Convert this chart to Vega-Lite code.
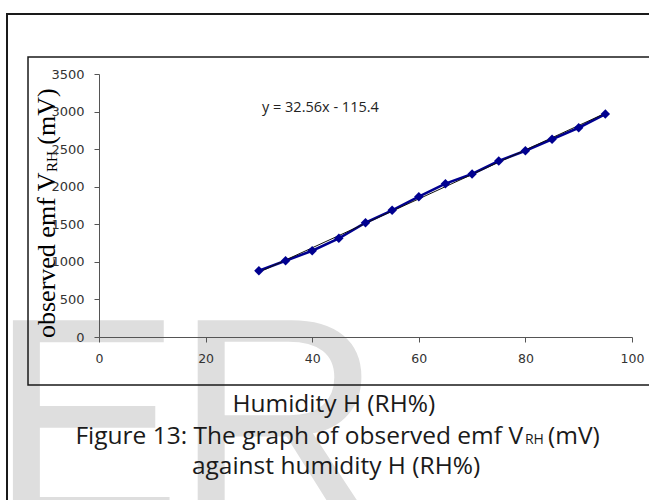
{
  "$schema": "https://vega.github.io/schema/vega-lite/v6.json",
  "width": 533,
  "height": 263,
  "autosize": {"type": "none"},
  "padding": {"left": 99, "top": 74, "right": 17, "bottom": 163},
  "background": "white",
  "config": {"view": {"stroke": null}},
  "resolve": {"scale": {"x": "independent", "y": "independent"}, "axis": {"x": "independent", "y": "independent"}},
  "datasets": {
    "obs": [
      {"humidity": 30, "emf": 882},
      {"humidity": 35, "emf": 1015},
      {"humidity": 40, "emf": 1148},
      {"humidity": 45, "emf": 1313},
      {"humidity": 50, "emf": 1521},
      {"humidity": 55, "emf": 1686},
      {"humidity": 60, "emf": 1867},
      {"humidity": 65, "emf": 2041},
      {"humidity": 70, "emf": 2169},
      {"humidity": 75, "emf": 2342},
      {"humidity": 80, "emf": 2479},
      {"humidity": 85, "emf": 2631},
      {"humidity": 90, "emf": 2785},
      {"humidity": 95, "emf": 2968}
    ],
    "trend": [
      {"humidity": 30, "emf": 861.4},
      {"humidity": 95, "emf": 2977.8}
    ]
  },
  "layer": [
    {
      "data": {"values": [{}]},
      "mark": {"type": "text", "text": "E", "font": "Liberation Sans", "fontSize": 289, "color": "#dedede", "align": "left", "baseline": "alphabetic"},
      "encoding": {
        "x": {"datum": -20.6, "type": "quantitative", "scale": {"domain": [0, 100], "nice": false, "zero": false}, "axis": null},
        "y": {"datum": -2422, "type": "quantitative", "scale": {"domain": [0, 3500], "nice": false, "zero": false}, "axis": null}
      }
    },
    {
      "data": {"values": [{}]},
      "mark": {"type": "text", "text": "R", "font": "Liberation Sans", "fontSize": 289, "color": "#dedede", "align": "left", "baseline": "alphabetic"},
      "encoding": {
        "x": {"datum": 14.07, "type": "quantitative", "scale": {"domain": [0, 100], "nice": false, "zero": false}, "axis": null},
        "y": {"datum": -2422, "type": "quantitative", "scale": {"domain": [0, 3500], "nice": false, "zero": false}, "axis": null}
      }
    },
    {
      "data": {"values": [{}]},
      "mark": {"type": "rect", "filled": false, "stroke": "#1a1a1a", "strokeWidth": 2},
      "encoding": {
        "x": {"datum": -17.26, "type": "quantitative", "scale": {"domain": [0, 100], "nice": false, "zero": false}, "axis": null},
        "x2": {"datum": 110},
        "y": {"datum": 4298.5, "type": "quantitative", "scale": {"domain": [0, 3500], "nice": false, "zero": false}, "axis": null},
        "y2": {"datum": -2435}
      }
    },
    {
      "data": {"values": [{}]},
      "mark": {"type": "rect", "filled": false, "stroke": "#1a1a1a", "strokeWidth": 1.5},
      "encoding": {
        "x": {"datum": -13.32, "type": "quantitative", "scale": {"domain": [0, 100], "nice": false, "zero": false}, "axis": null},
        "x2": {"datum": 110},
        "y": {"datum": 3726.2, "type": "quantitative", "scale": {"domain": [0, 3500], "nice": false, "zero": false}, "axis": null},
        "y2": {"datum": -638.8}
      }
    },
    {
      "data": {"name": "obs"},
      "mark": {"type": "line", "color": "#000090", "strokeWidth": 2.6},
      "encoding": {
        "x": {
          "field": "humidity", "type": "quantitative",
          "scale": {"domain": [0, 100], "nice": false, "zero": false},
          "axis": {"title": null, "values": [0, 20, 40, 60, 80, 100], "format": "d", "labelOverlap": false, "labelFlush": false, "labelBound": false, "grid": false, "tickSize": 5, "domainColor": "#555555", "tickColor": "#555555", "labelColor": "#333333", "labelFont": "DejaVu Sans", "labelFontSize": 12.5, "labelPadding": 10, "domainWidth": 1, "zindex": 1}
        },
        "y": {
          "field": "emf", "type": "quantitative",
          "scale": {"domain": [0, 3500], "nice": false, "zero": false},
          "axis": {"title": null, "values": [0, 500, 1000, 1500, 2000, 2500, 3000, 3500], "format": "d", "labelOverlap": false, "labelFlush": false, "labelBound": false, "grid": false, "tickSize": 5, "domainColor": "#555555", "tickColor": "#555555", "labelColor": "#333333", "labelFont": "DejaVu Sans", "labelFontSize": 13, "labelPadding": 10, "domainWidth": 1, "zindex": 1}
        }
      }
    },
    {
      "data": {"name": "trend"},
      "mark": {"type": "line", "color": "#111111", "strokeWidth": 1},
      "encoding": {
        "x": {"field": "humidity", "type": "quantitative", "scale": {"domain": [0, 100], "nice": false, "zero": false}, "axis": null},
        "y": {"field": "emf", "type": "quantitative", "scale": {"domain": [0, 3500], "nice": false, "zero": false}, "axis": null}
      }
    },
    {
      "data": {"name": "obs"},
      "mark": {"type": "point", "shape": "diamond", "filled": true, "color": "#000090", "size": 90, "opacity": 1},
      "encoding": {
        "x": {"field": "humidity", "type": "quantitative", "scale": {"domain": [0, 100], "nice": false, "zero": false}, "axis": null},
        "y": {"field": "emf", "type": "quantitative", "scale": {"domain": [0, 3500], "nice": false, "zero": false}, "axis": null}
      }
    },
    {
      "data": {"values": [{}]},
      "mark": {"type": "text", "text": "y = 32.56x - 115.4", "font": "Open Sans", "fontSize": 14.5, "color": "#222222", "align": "left", "baseline": "alphabetic"},
      "encoding": {
        "x": {"datum": 30.58, "type": "quantitative", "scale": {"domain": [0, 100], "nice": false, "zero": false}, "axis": null},
        "y": {"datum": 2998, "type": "quantitative", "scale": {"domain": [0, 3500], "nice": false, "zero": false}, "axis": null}
      }
    },
    {
      "data": {"values": [{}]},
      "mark": {"type": "text", "text": "observed emf V", "font": "Liberation Serif", "fontSize": 26, "color": "#000000", "angle": 270, "align": "left", "baseline": "alphabetic"},
      "encoding": {
        "x": {"datum": -8.255, "type": "quantitative", "scale": {"domain": [0, 100], "nice": false, "zero": false}, "axis": null},
        "y": {"datum": -13.3, "type": "quantitative", "scale": {"domain": [0, 3500], "nice": false, "zero": false}, "axis": null}
      }
    },
    {
      "data": {"values": [{}]},
      "mark": {"type": "text", "text": "RH", "font": "Liberation Serif", "fontSize": 15, "color": "#000000", "angle": 270, "align": "left", "baseline": "alphabetic"},
      "encoding": {
        "x": {"datum": -7.88, "type": "quantitative", "scale": {"domain": [0, 100], "nice": false, "zero": false}, "axis": null},
        "y": {"datum": 2195.8, "type": "quantitative", "scale": {"domain": [0, 3500], "nice": false, "zero": false}, "axis": null}
      }
    },
    {
      "data": {"values": [{}]},
      "mark": {"type": "text", "text": "(mV)", "font": "Liberation Serif", "fontSize": 26, "color": "#000000", "angle": 270, "align": "left", "baseline": "alphabetic"},
      "encoding": {
        "x": {"datum": -8.255, "type": "quantitative", "scale": {"domain": [0, 100], "nice": false, "zero": false}, "axis": null},
        "y": {"datum": 2559, "type": "quantitative", "scale": {"domain": [0, 3500], "nice": false, "zero": false}, "axis": null}
      }
    },
    {
      "data": {"values": [{}]},
      "mark": {"type": "text", "text": "Humidity H (RH%)", "font": "Open Sans", "fontSize": 24.5, "color": "#1a1a1a", "align": "center", "baseline": "alphabetic"},
      "encoding": {
        "x": {"datum": 44.05, "type": "quantitative", "scale": {"domain": [0, 100], "nice": false, "zero": false}, "axis": null},
        "y": {"datum": -994, "type": "quantitative", "scale": {"domain": [0, 3500], "nice": false, "zero": false}, "axis": null}
      }
    },
    {
      "data": {"values": [{}]},
      "mark": {"type": "text", "text": "Figure 13: The graph of observed emf V", "font": "Open Sans", "fontSize": 24.5, "color": "#1a1a1a", "align": "right", "baseline": "alphabetic"},
      "encoding": {
        "x": {"datum": 79.55, "type": "quantitative", "scale": {"domain": [0, 100], "nice": false, "zero": false}, "axis": null},
        "y": {"datum": -1428, "type": "quantitative", "scale": {"domain": [0, 3500], "nice": false, "zero": false}, "axis": null}
      }
    },
    {
      "data": {"values": [{}]},
      "mark": {"type": "text", "text": "RH", "font": "Open Sans", "fontSize": 14, "color": "#1a1a1a", "align": "left", "baseline": "alphabetic"},
      "encoding": {
        "x": {"datum": 79.92, "type": "quantitative", "scale": {"domain": [0, 100], "nice": false, "zero": false}, "axis": null},
        "y": {"datum": -1428, "type": "quantitative", "scale": {"domain": [0, 3500], "nice": false, "zero": false}, "axis": null}
      }
    },
    {
      "data": {"values": [{}]},
      "mark": {"type": "text", "text": "(mV)", "font": "Open Sans", "fontSize": 24.5, "color": "#1a1a1a", "align": "left", "baseline": "alphabetic"},
      "encoding": {
        "x": {"datum": 84.24, "type": "quantitative", "scale": {"domain": [0, 100], "nice": false, "zero": false}, "axis": null},
        "y": {"datum": -1428, "type": "quantitative", "scale": {"domain": [0, 3500], "nice": false, "zero": false}, "axis": null}
      }
    },
    {
      "data": {"values": [{}]},
      "mark": {"type": "text", "text": "against humidity H (RH%)", "font": "Open Sans", "fontSize": 24.5, "color": "#1a1a1a", "align": "center", "baseline": "alphabetic"},
      "encoding": {
        "x": {"datum": 44.47, "type": "quantitative", "scale": {"domain": [0, 100], "nice": false, "zero": false}, "axis": null},
        "y": {"datum": -1827, "type": "quantitative", "scale": {"domain": [0, 3500], "nice": false, "zero": false}, "axis": null}
      }
    }
  ]
}
